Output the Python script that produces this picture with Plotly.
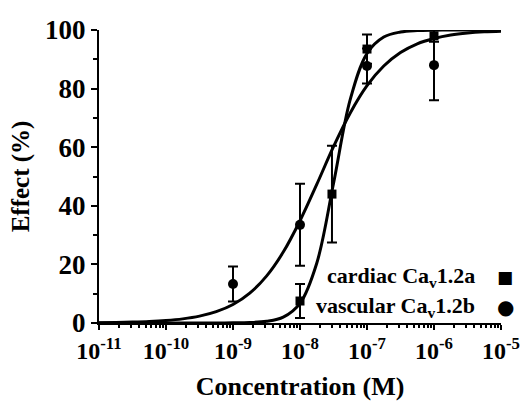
import plotly.graph_objects as go

# Measured data points
card_x = [1e-8, 3e-8, 1e-7, 1e-6]
card_y = [7.5, 44, 93.5, 98]
card_err = [5.8, 16.5, 5, 2]

vasc_x = [1e-9, 1e-8, 1e-7, 1e-6]
vasc_y = [13.3, 33.5, 87.7, 88]
vasc_err = [6, 14, 6, 12]

# Fit curves at quarter-decade steps
curve_x = [10 ** (-11 + 0.25 * i) for i in range(25)]
card_fit = [0, 0, 0, 0, 0, 0, 0.004, 0.01, 0.046, 0.16, 0.57, 2.0, 6.7, 20.4,
            47.6, 76.3, 92.0, 97.6, 99.3, 99.8, 99.95, 100, 100, 100, 100]
vasc_fit = [0.11, 0.18, 0.30, 0.50, 0.84, 1.41, 2.34, 3.86, 6.3, 10.2, 16.0, 24.2,
            34.9, 47.3, 60.2, 71.7, 81.0, 87.7, 92.3, 95.3, 97.1, 98.3, 99.0, 99.4, 99.6]

x_tickvals = [1e-11, 1e-10, 1e-9, 1e-8, 1e-7, 1e-6, 1e-5]
x_ticktext = ["<b>10<sup>-11</sup></b>", "<b>10<sup>-10</sup></b>", "<b>10<sup>-9</sup></b>", "<b>10<sup>-8</sup></b>",
              "<b>10<sup>-7</sup></b>", "<b>10<sup>-6</sup></b>", "<b>10<sup>-5</sup></b>"]
y_tickvals = [0, 20, 40, 60, 80, 100]
y_ticktext = ["<b>%d</b>" % v for v in y_tickvals]

FONT = "Liberation Serif, Times New Roman, serif"
fig = go.Figure()

for fy in (card_fit, vasc_fit):
    fig.add_trace(go.Scatter(x=curve_x, y=fy, mode="lines", line=dict(color="black", width=3, shape="spline"),
                             showlegend=False, hoverinfo="skip", cliponaxis=False))

fig.add_trace(go.Scatter(x=card_x, y=card_y, mode="markers",
                         marker=dict(symbol="square", size=9, color="black"),
                         error_y=dict(type="data", array=card_err, color="black", thickness=2, width=5),
                         showlegend=False, cliponaxis=False))
fig.add_trace(go.Scatter(x=vasc_x, y=vasc_y, mode="markers",
                         marker=dict(symbol="circle", size=10, color="black"),
                         error_y=dict(type="data", array=vasc_err, color="black", thickness=2, width=5),
                         showlegend=False, cliponaxis=False))

fig.update_layout(
    width=520, height=405,
    margin=dict(l=99, r=19, t=30, b=82),
    plot_bgcolor="white", paper_bgcolor="white",
    font=dict(family=FONT, color="black", size=22),
    xaxis=dict(type="log", range=[-11, -5], tickvals=x_tickvals, ticktext=x_ticktext, automargin=False,
               ticklabeloverflow="allow",
               showline=True, linecolor="black", linewidth=2, ticks="outside", ticklen=5, tickwidth=2,
               tickcolor="black", showgrid=False, zeroline=False,
               tickfont=dict(family=FONT, size=24),
               minor=dict(ticks="outside", ticklen=3, tickwidth=1.5, tickcolor="black", dtick="D1", showgrid=False),
               title=dict(text="<b>Concentration (M)</b>", font=dict(family=FONT, size=26), standoff=14)),
    yaxis=dict(range=[0, 100], tickvals=y_tickvals, ticktext=y_ticktext, automargin=False,
               showline=True, linecolor="black", linewidth=2,
               ticks="outside", ticklen=6, tickwidth=2, tickcolor="black", showgrid=False, zeroline=False,
               tickfont=dict(family=FONT, size=27),
               minor=dict(ticks="outside", ticklen=4, tickwidth=2, tickcolor="black", dtick=10, showgrid=False),
               title=dict(text="<b>Effect (%)</b>", font=dict(family=FONT, size=25), standoff=8)),
    annotations=[
        dict(xref="paper", yref="paper", x=0.94, y=0.157, xanchor="right", yanchor="middle", showarrow=False,
             text="<b>cardiac Ca<sub>v</sub>1.2a</b>", font=dict(family=FONT, size=22)),
        dict(xref="paper", yref="paper", x=0.94, y=0.055, xanchor="right", yanchor="middle", showarrow=False,
             text="<b>vascular Ca<sub>v</sub>1.2b</b>", font=dict(family=FONT, size=22)),
        dict(xref="paper", yref="paper", x=1.01, y=0.157, xanchor="center", yanchor="middle", showarrow=False,
             text="■", font=dict(family="DejaVu Sans", size=17)),
        dict(xref="paper", yref="paper", x=1.01, y=0.055, xanchor="center", yanchor="middle", showarrow=False,
             text="●", font=dict(family="DejaVu Sans", size=20)),
    ],
)

fig.write_html("out.html", config={"displayModeBar": False},
               post_script="document.body.style.margin='0px';document.body.style.overflow='hidden';")
